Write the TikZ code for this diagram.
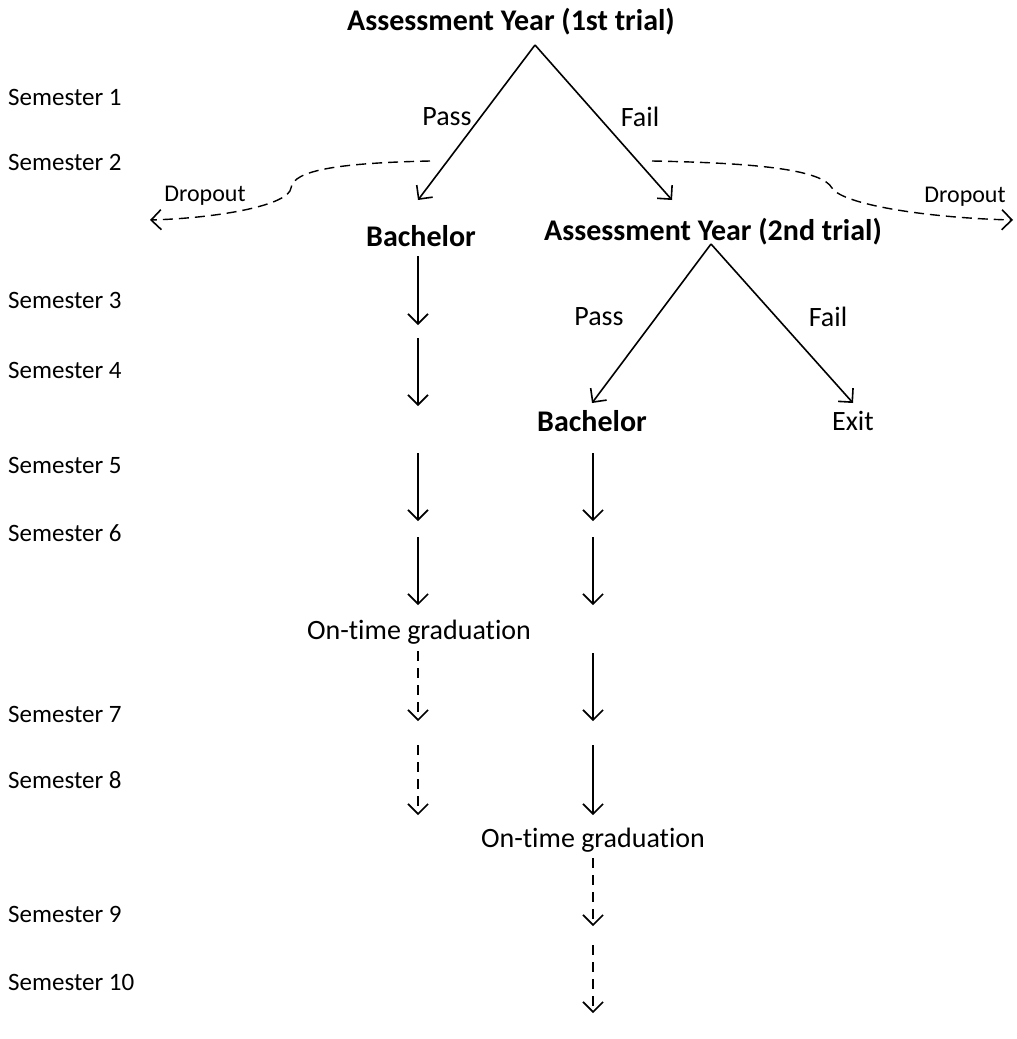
\documentclass[tikz,border=0pt]{standalone}
\usepackage{fontspec}
\setmainfont{Carlito}[Ligatures=CommonOff]
\usetikzlibrary{arrows.meta}
\begin{document}
\begin{tikzpicture}[x=1pt,y=-1pt,
  lbl/.style={font=\fontsize{28}{34}\selectfont, inner sep=0pt},
  ttl/.style={font=\fontsize{30}{36}\selectfont\bfseries, inner sep=0pt},
  sem/.style={font=\fontsize{25}{30}\selectfont, inner sep=0pt, anchor=west},
  drp/.style={font=\fontsize{24}{28}\selectfont, inner sep=0pt},
  conn/.style={line width=1.6pt, -{Straight Barb[length=10pt,width=20pt,line width=1.6pt]}},
  dconn/.style={conn, dash pattern=on 10pt off 7pt}]
\useasboundingbox (0,0) rectangle (1017,1039);
% semester labels
\node[sem] (s1) at (8,97) {Semester 1};
\node[sem] (s2) at (8,162) {Semester 2};
\node[sem] (s3) at (8,300) {Semester 3};
\node[sem] (s4) at (8,370) {Semester 4};
\node[sem] (s5) at (8,465) {Semester 5};
\node[sem] (s6) at (8,533) {Semester 6};
\node[sem] (s7) at (8,714) {Semester 7};
\node[sem] (s8) at (8,780) {Semester 8};
\node[sem] (s9) at (8,914) {Semester 9};
\node[sem] (s10) at (8,982) {Semester 10};
% texts
\node[ttl] (ay1) at (511,22) {Assessment Year (1st trial)};
\node[lbl] (pass1) at (447,117) {Pass};
\node[lbl] (fail1) at (640,117) {Fail};
\node[ttl] (bach1) at (421,236) {Bachelor};
\node[ttl] (ay2) at (713,232) {Assessment Year (2nd trial)};
\node[drp] (dropL) at (205,196) {Dropout};
\node[drp] (dropR) at (965,197) {Dropout};
\node[lbl] (pass2) at (599,317) {Pass};
\node[lbl] (fail2) at (828,317) {Fail};
\node[ttl] (bach2) at (592,421) {Bachelor};
\node[lbl] (exit) at (853,421) {Exit};
\node[lbl] (otg1) at (419,632) {On-time graduation};
\node[lbl] (otg2) at (593,840) {On-time graduation};
% coordinates
\coordinate (apex1) at (535,45);
\coordinate (apex2) at (711,244);
\coordinate (e1p) at (418,200);
\coordinate (e1f) at (672,200);
\coordinate (e2p) at (592,403);
\coordinate (e2f) at (853,403);
% tree arrows
\draw[conn] (apex1) -- (e1p);
\draw[conn] (apex1) -- (e1f);
\draw[conn] (apex2) -- (e2p);
\draw[conn] (apex2) -- (e2f);
% dropout curves
\coordinate (dLs) at (430,161);
\coordinate (dLe) at (150,220);
\coordinate (dRs) at (652,161);
\coordinate (dRe) at (1013,220);
\draw[dconn, dash pattern=on 10pt off 6pt, line width=1.4pt] (dLs) .. controls (340,163) and (293,170) .. (291,188)
   .. controls (289,205) and (220,218) .. (dLe);
\draw[dconn, dash pattern=on 10pt off 6pt, line width=1.4pt] (dRs) .. controls (760,163) and (822,170) .. (832,188)
   .. controls (843,205) and (930,218) .. (dRe);
% column 1
\foreach \i/\a/\b in {1/256/325, 2/338/406, 3/453/521, 4/537/605}{
  \coordinate (c1a\i) at (418,\a); \coordinate (c1b\i) at (418,\b);
  \draw[conn] (c1a\i) -- (c1b\i);}
\foreach \i/\a/\b in {5/651/721, 6/745/815}{
  \coordinate (c1a\i) at (418,\a); \coordinate (c1b\i) at (418,\b);
  \draw[dconn] (c1a\i) -- (c1b\i);}
% column 2
\foreach \i/\a/\b in {1/453/521, 2/537/605, 3/653/721, 4/745/815}{
  \coordinate (c2a\i) at (593,\a); \coordinate (c2b\i) at (593,\b);
  \draw[conn] (c2a\i) -- (c2b\i);}
\foreach \i/\a/\b in {5/858/926, 6/945/1013}{
  \coordinate (c2a\i) at (593,\a); \coordinate (c2b\i) at (593,\b);
  \draw[dconn] (c2a\i) -- (c2b\i);}
\end{tikzpicture}
\end{document}
